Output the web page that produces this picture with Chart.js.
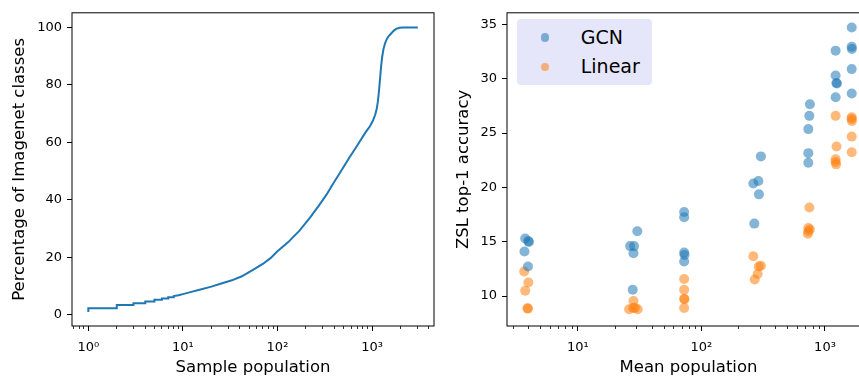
<!DOCTYPE html>
<html>
<head>
<meta charset="utf-8">
<script src="https://cdn.jsdelivr.net/npm/chart.js@4.4.1/dist/chart.umd.min.js"></script>
<style>
html,body{margin:0;padding:0;background:#fff;overflow:hidden}
#wrap{position:relative;width:859px;height:376px;overflow:hidden}
#left{position:absolute;left:0;top:0}
#right{position:absolute;left:440px;top:0}
#legend{position:absolute;left:517px;top:19px;width:135px;height:66px;background:#e6e6fa;border-radius:4px;
  font:19px 'DejaVu Sans';color:#000;padding-top:4px;box-sizing:border-box}
#legend .row{display:flex;align-items:center;height:29.3px}
#legend .dot{width:8.5px;height:8.5px;border-radius:50%;margin-left:23.75px}
#legend .txt{margin-left:31.5px;line-height:1}
</style>
</head>
<body>
<div id="wrap">
  <canvas id="left" width="440" height="376"></canvas>
  <canvas id="right" width="440" height="376"></canvas>
  <div id="legend"></div>
</div>
<script>
// left panel: cumulative share of classes vs sample count
const popX = [1, 1, 2, 2, 3, 3, 4, 4, 5, 5, 6, 6, 7, 7, 8, 8, 9, 10, 12, 15, 20, 25, 33, 42, 55, 70, 85, 100,
  130, 170, 220, 275, 330, 380, 460, 570, 700, 850, 950, 1020, 1080, 1120, 1150, 1175, 1200, 1225, 1250,
  1280, 1320, 1370, 1430, 1500, 1600, 1700, 1800, 1950, 2100, 2500, 3050];
const popY = [1.0, 2.3, 2.3, 3.4, 3.4, 4.0, 4.0, 4.6, 4.6, 5.2, 5.2, 5.7, 5.7, 6.1, 6.1, 6.5, 6.8, 7.2, 7.9, 8.7,
  9.8, 10.8, 12.0, 13.4, 15.6, 17.7, 19.8, 22.1, 25.3, 29.2, 33.7, 38.1, 41.8, 45.2, 49.5, 54.5, 59.0, 63.4,
  65.6, 67.5, 69.6, 71.6, 74.0, 76.8, 80.0, 83.5, 86.8, 89.8, 92.4, 94.4, 95.9, 97.0, 98.0, 98.9, 99.5, 99.9,
  100, 100, 100];

// right panel: ZSL accuracy vs mean population
const gcnX = [3.75, 3.98, 4.02, 3.7, 3.95, 26.5, 28.5, 28.2, 30.3, 27.8, 72.5, 72.5, 72.5, 73, 72.5,
  303, 263, 289, 292, 268, 755, 747, 733, 733, 733, 1219, 1219, 1235, 1250, 1219, 1645, 1645, 1650, 1645, 1645];
const gcnY = [15.3, 15.06, 14.98, 14.1, 12.73, 14.6, 14.6, 13.95, 15.97, 10.58, 17.73, 17.25, 14.0, 13.79, 13.18,
  22.85, 20.36, 20.58, 19.36, 16.67, 27.64, 26.58, 25.36, 23.15, 22.27, 32.58, 30.3, 29.6, 29.55, 28.3,
  34.7, 32.94, 32.73, 30.88, 28.64];
const linX = [3.68, 3.98, 3.75, 3.91, 3.95, 28.2, 26, 28, 29, 30.5, 72.5, 72.5, 72.5, 73, 72.5,
  263, 303, 291, 285, 270, 747, 733, 755, 733, 727, 1219, 1240, 1219, 1219, 1230, 1645, 1645, 1650, 1645, 1645];
const linY = [12.27, 11.25, 10.49, 8.88, 8.85, 9.55, 8.79, 8.9, 8.92, 8.79, 11.58, 10.58, 9.76, 9.7, 8.91,
  13.67, 12.79, 12.73, 12.03, 11.52, 18.15, 16.27, 16.13, 15.97, 15.73, 26.58, 23.76, 22.58, 22.33, 22.12,
  26.45, 26.3, 26.1, 24.67, 23.24];

const seriesNames = ['GCN', 'Linear'];

// ticks
const leftYTicks = [0, 20, 40, 60, 80, 100];
const rightYTicks = [10, 15, 20, 25, 30, 35];
const leftXTicks = [1, 10, 100, 1000];
const leftXLabels = ['10\u2070', '10\u00b9', '10\u00b2', '10\u00b3'];
const leftXMinor = [0.7, 0.8, 0.9, 2, 3, 4, 5, 6, 7, 8, 9, 20, 30, 40, 50, 60, 70, 80, 90,
  200, 300, 400, 500, 600, 700, 800, 900, 2000, 3000, 4000];
const rightXTicks = [10, 100, 1000];
const rightXLabels = ['10\u00b9', '10\u00b2', '10\u00b3'];
const rightXMinor = [3, 4, 5, 6, 7, 8, 9, 20, 30, 40, 50, 60, 70, 80, 90,
  200, 300, 400, 500, 600, 700, 800, 900, 2000];

Chart.defaults.font.family = "'DejaVu Sans'";
Chart.defaults.color = '#000';
const tickFont = {size: 13};
const titleFont = {size: 16.5, lineHeight: 1};

const frame = {
  id: 'frame',
  afterDatasetsDraw(c) {
    const a = c.chartArea, ctx = c.ctx;
    ctx.save();
    ctx.strokeStyle = '#000';
    ctx.lineWidth = 1;
    ctx.strokeRect(a.left, a.top, a.right - a.left, a.bottom - a.top);
    ctx.restore();
  }
};

function logAxes(min, max, major, labels, minor, title) {
  return {
    xm: {
      type: 'logarithmic', position: 'bottom', weight: 0, min, max,
      afterBuildTicks: s => { s.ticks = minor.map(v => ({value: v})); },
      afterFit: s => { s.height = 0; },
      ticks: {display: false, autoSkip: false},
      grid: {drawOnChartArea: false, drawTicks: true, tickLength: 3, tickColor: '#000', tickWidth: 0.8},
      border: {display: false}
    },
    x: {
      type: 'logarithmic', position: 'bottom', weight: 1, min, max,
      afterBuildTicks: s => { s.ticks = major.map(v => ({value: v})); },
      afterFit: s => { s.height = 50; },
      ticks: {autoSkip: false, maxRotation: 0, minRotation: 0, padding: 9, font: tickFont, color: '#000',
        callback: v => labels[major.indexOf(v)]},
      grid: {drawOnChartArea: false, drawTicks: true, tickLength: 5, tickColor: '#000', tickWidth: 1},
      border: {display: false},
      title: {display: true, text: title, font: titleFont, color: '#000', padding: {top: 0, bottom: 0}}
    }
  };
}

function yAxis(min, max, ticks, width, title, tpad) {
  return {
    type: 'linear', position: 'left', min, max,
    afterBuildTicks: s => { s.ticks = ticks.map(v => ({value: v})); },
    afterFit: s => { s.width = width; },
    ticks: {padding: 5, font: tickFont, color: '#000'},
    grid: {drawOnChartArea: false, drawTicks: true, tickLength: 5, tickColor: '#000', tickWidth: 1},
    border: {display: false},
    title: {display: true, text: title, font: titleFont, color: '#000', padding: {top: tpad, bottom: 0}}
  };
}

// Left chart
new Chart(document.getElementById('left'), {
  type: 'line',
  data: {
    datasets: [{
      data: popX.map((x, i) => ({x, y: popY[i]})),
      borderColor: '#1f77b4', borderWidth: 2, pointRadius: 0, tension: 0, fill: false
    }]
  },
  options: {
    responsive: false, animation: false, events: [],
    layout: {padding: {top: 9, right: 6, left: 0, bottom: 0}},
    plugins: {legend: {display: false}, tooltip: {enabled: false}},
    scales: Object.assign(
      logAxes(0.672, 4520, leftXTicks, leftXLabels, leftXMinor, 'Sample population'),
      {y: yAxis(-3.9, 105.1, leftYTicks, 72, 'Percentage of Imagenet classes', 11)})
  },
  plugins: [frame]
});

// Right chart
const colors = ['rgba(31,119,180,0.55)', 'rgba(255,127,14,0.55)'];
const rightChart = new Chart(document.getElementById('right'), {
  type: 'scatter',
  data: {
    datasets: [
      {label: seriesNames[0], data: gcnX.map((x, i) => ({x, y: gcnY[i]})), backgroundColor: colors[0]},
      {label: seriesNames[1], data: linX.map((x, i) => ({x, y: linY[i]})), backgroundColor: colors[1]}
    ]
  },
  options: {
    responsive: false, animation: false, events: [],
    layout: {padding: {top: 9, right: 10, left: 0, bottom: 0}},
    elements: {point: {radius: 5, borderWidth: 0, hoverRadius: 5}},
    plugins: {legend: {display: false}, tooltip: {enabled: false}},
    scales: Object.assign(
      logAxes(2.672, 2313, rightXTicks, rightXLabels, rightXMinor, 'Mean population'),
      {y: yAxis(7.25, 36.06, rightYTicks, 67, 'ZSL top-1 accuracy', 15)})
  },
  plugins: [frame]
});

// html legend from the datasets
const leg = document.getElementById('legend');
rightChart.data.datasets.forEach(d => {
  const row = document.createElement('div');
  row.className = 'row';
  const dot = document.createElement('span');
  dot.className = 'dot';
  dot.style.background = d.backgroundColor;
  const txt = document.createElement('span');
  txt.className = 'txt';
  txt.textContent = d.label;
  row.appendChild(dot);
  row.appendChild(txt);
  leg.appendChild(row);
});
</script>
</body>
</html>
